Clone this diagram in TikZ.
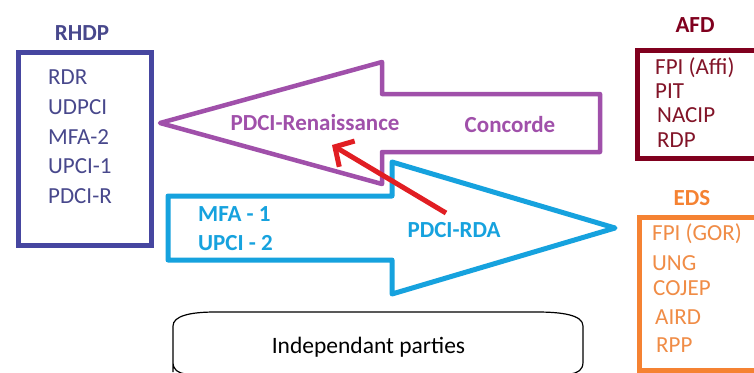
\documentclass[tikz,border=0pt]{standalone}
\usepackage{fontspec}
\setmainfont{Carlito}
\usetikzlibrary{arrows.meta}
\definecolor{rhdp}{RGB}{70,70,160}
\definecolor{rhdptext}{RGB}{72,72,140}
\definecolor{purp}{RGB}{160,80,170}
\definecolor{cyanb}{RGB}{22,162,222}
\definecolor{redar}{RGB}{225,30,35}
\definecolor{afd}{RGB}{128,0,30}
\definecolor{afdtext}{RGB}{130,20,40}
\definecolor{eds}{RGB}{245,130,50}
\definecolor{edstext}{RGB}{240,140,70}
\tikzset{
  lbl/.style={inner sep=0pt, font=\fontsize{23bp}{27bp}\selectfont},
  entry/.style={lbl, anchor=base west},
  title/.style={lbl, font=\fontsize{23bp}{27bp}\selectfont\bfseries, anchor=base},
  blbl/.style={lbl, font=\fontsize{23bp}{27bp}\selectfont\bfseries, anchor=base},
  bwlbl/.style={lbl, font=\fontsize{23bp}{27bp}\selectfont\bfseries, anchor=base west},
  partybox/.style={draw, line width=5bp, inner sep=0pt, anchor=north west},
  bigarrow/.style={line width=4.5bp, line join=round},
}
\begin{document}
\begin{tikzpicture}[x=1bp,y=-1bp]
\useasboundingbox (0,0) rectangle (754,372);
\clip (0,0) rectangle (754,372);
\fill[white] (0,0) rectangle (754,372);

% RHDP
\node[partybox, draw=rhdp, minimum width=133bp, minimum height=193bp] (rhdpbox) at (16,50) {};
\node[title, text=rhdptext] (rhdpt) at (82,40.5) {RHDP};
\node[entry, text=rhdptext] (rdr) at (48,84.5) {RDR};
\node[entry, text=rhdptext] (udpci) at (48,114) {UDPCI};
\node[entry, text=rhdptext] (mfa2) at (48,144) {MFA-2};
\node[entry, text=rhdptext] (upci1) at (48,173.5) {UPCI-1};
\node[entry, text=rhdptext] (pdcir) at (48,203) {PDCI-R};

% AFD
\node[partybox, draw=afd, minimum width=140bp, minimum height=108bp] (afdbox) at (635,48) {};
\node[title, text=afd] (afdt) at (695,32.5) {AFD};
\node[entry, text=afdtext] (fpiaffi) at (655,74.5) {FPI (Affi)};
\node[entry, text=afdtext] (pit) at (655,98.5) {PIT};
\node[entry, text=afdtext] (nacip) at (657,122.5) {NACIP};
\node[entry, text=afdtext] (rdp) at (657,147.5) {RDP};

% EDS
\node[partybox, draw=eds, minimum width=140bp, minimum height=153bp] (edsbox) at (637,215) {};
\node[title, text=eds] (edst) at (692,205.5) {EDS};
\node[entry, text=edstext] (fpigor) at (652,240.5) {FPI (GOR)};
\node[entry, text=edstext] (ung) at (652,270) {UNG};
\node[entry, text=edstext] (cojep) at (653,295.5) {COJEP};
\node[entry, text=edstext] (aird) at (655,324.5) {AIRD};
\node[entry, text=edstext] (rpp) at (656,352.5) {RPP};

% purple arrow (left)
\draw[bigarrow, purp] (160,123) -- (382,62) -- (382,94) -- (600,94) -- (600,152) -- (382,152) -- (382,184) -- cycle;
\node[blbl, text=purp] (ren) at (315,130.5) {PDCI-Renaissance};
\node[blbl, text=purp] (conc) at (510,132.5) {Concorde};

% blue arrow (right)
\draw[bigarrow, cyanb, line width=5bp] (615,228) -- (392,162) -- (392,196) -- (168,196) -- (168,260) -- (392,260) -- (392,294) -- cycle;
\node[bwlbl, text=cyanb] (mfa1) at (198,221) {MFA - 1};
\node[bwlbl, text=cyanb] (upci2) at (198,250) {UPCI - 2};
\node[blbl, text=cyanb] (rda) at (454,237.5) {PDCI-RDA};

% red arrow
\coordinate (rs) at (446,213);
\coordinate (re) at (332,145);
\draw[redar, line width=5bp, -{Straight Barb[length=14bp,width=30bp]}] (rs) -- (re);

% independant parties
\draw[line width=1.2bp] (173,372) -- (173,326) .. controls (173,316) and (190,312) .. (215,312)
  -- (537,312) .. controls (562,312) and (583,315) .. (583,326) -- (583,362)
  .. controls (583,370) and (578,373) .. (570,374) -- (186,374) .. controls (178,373) and (173,370) .. (173,362);
\node[lbl, font=\fontsize{23.5bp}{27bp}\selectfont, anchor=base] (indep) at (368.5,353) {Independant parties};
\end{tikzpicture}
\end{document}
